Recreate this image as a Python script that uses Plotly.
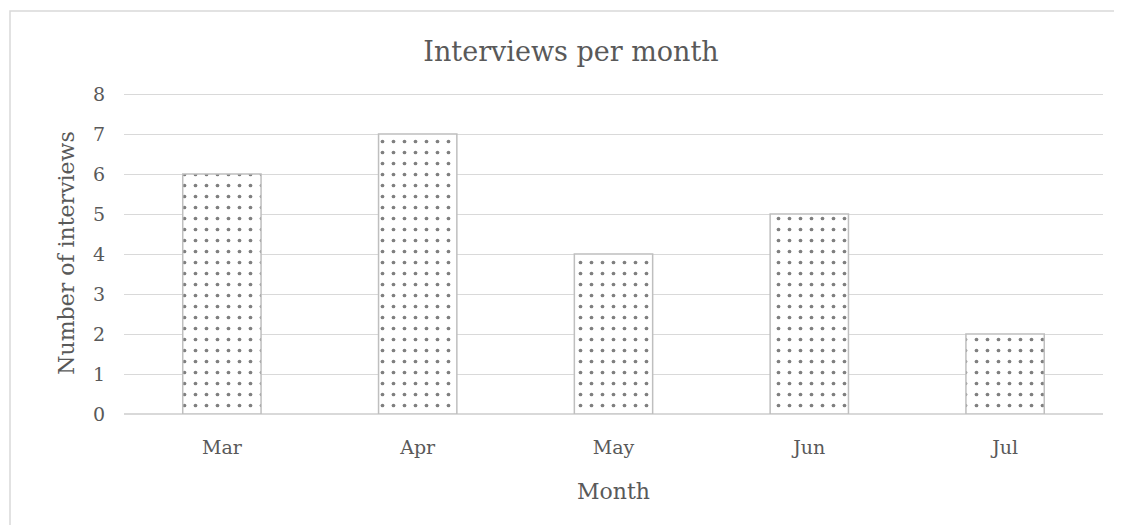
import plotly.graph_objects as go

months = ["Mar", "Apr", "May", "Jun", "Jul"]
interviews = [6, 7, 4, 5, 2]
y_ticks = [0, 1, 2, 3, 4, 5, 6, 7, 8]

FONT = "DejaVu Serif"
TXT = "#595959"

fig = go.Figure()
fig.add_trace(go.Bar(
    x=months, y=interviews,
    marker=dict(
        color="white",
        line=dict(color="#BFBFBF", width=1.5),
        pattern=dict(shape=".", fgcolor="black", bgcolor="white", size=11, solidity=0.09),
    ),
    width=0.4,
))

OFF = 8  # browser body margin
W, H = 1122 - OFF, 525 - OFF
L, R, T, B = 124 - OFF, 19, 92 - OFF, 111
pw, ph = W - L - R, H - T - B

fig.update_layout(
    width=W, height=H,
    margin=dict(l=L, r=R, t=T, b=B, autoexpand=False),
    paper_bgcolor="white", plot_bgcolor="white",
    showlegend=False,
    font=dict(family=FONT, color=TXT, size=17),
    title=dict(text="Interviews per month", x=(571 - OFF) / W, xanchor="center",
               y=1 - (52 - OFF) / H, yanchor="middle",
               font=dict(family=FONT, size=27, color=TXT)),
    xaxis=dict(
        showgrid=False, showline=False, zeroline=False,
        tickfont=dict(family=FONT, size=19, color=TXT),
        ticks="", ticklabelstandoff=20,
        title=dict(text="Month", font=dict(family=FONT, size=22, color=TXT), standoff=26),
    ),
    yaxis=dict(
        range=[0, 8.05], tickvals=y_ticks,
        showgrid=True, gridcolor="#D9D9D9", gridwidth=1.3,
        zeroline=True, zerolinecolor="#D9D9D9", zerolinewidth=1.5,
        showline=False, ticks="", ticklabelstandoff=18,
        tickfont=dict(family=FONT, size=19, color=TXT),
        title=dict(text="Number of interviews", font=dict(family=FONT, size=22, color=TXT), standoff=12),
    ),
    bargap=0.6,
)

# outer chart-area border (top and left edges visible)
fig.add_shape(type="rect", xref="paper", yref="paper",
              x0=(10 - OFF - L) / pw, x1=(W + 5 - L) / pw,
              y0=-(B + 10) / ph, y1=1 + (T - (11 - OFF)) / ph,
              line=dict(color="#D9D9D9", width=1.5), fillcolor="rgba(0,0,0,0)", layer="below")

fig.write_html("out.html")
